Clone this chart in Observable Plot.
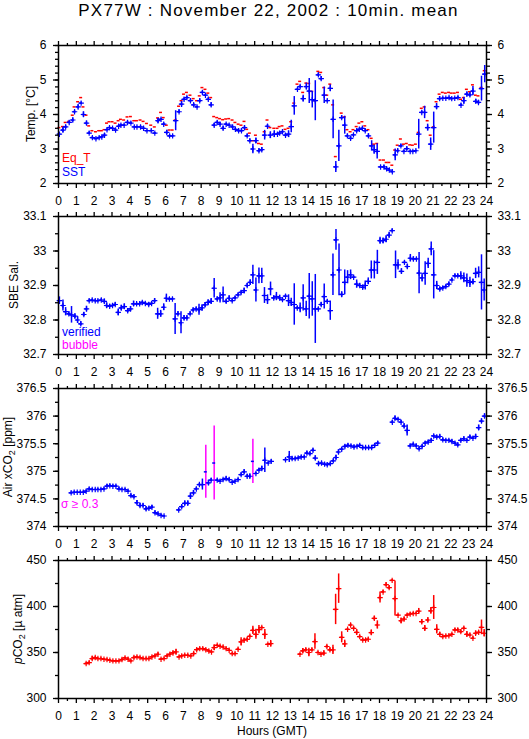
<!DOCTYPE html>
<html><head><meta charset="utf-8">
<script src="https://cdn.jsdelivr.net/npm/d3@7"></script>
<script src="https://cdn.jsdelivr.net/npm/@observablehq/plot@0.6"></script>
<style>
body{margin:0;background:#fff;}
#chart{position:relative;width:529px;height:739px;font-family:"Liberation Sans",Arial,Helvetica,sans-serif;overflow:hidden;}
#title{position:absolute;top:0;left:4px;width:529px;height:22px;line-height:22px;text-align:center;font-size:17px;letter-spacing:1.2px;color:#000;}
.panel{position:absolute;left:0;}
</style>
</head><body>
<div id="chart"><div id="title">PX77W : November 22, 2002 : 10min. mean</div></div>
<script>
// ---------- data ----------
const hourTicks = [0,1,2,3,4,5,6,7,8,9,10,11,12,13,14,15,16,17,18,19,20,21,22,23,24];
const tempTicks = [2,3,4,5,6];
const salTicks = [32.7,32.8,32.9,33,33.1];
const airTicks = [374,374.5,375,375.5,376,376.5];
const pco2Ticks = [300,350,400,450];

const tempHours = [0.05,0.25,0.4,0.6,0.8,0.9,1.1,1.27,1.4,1.57,1.72,1.9,2.1,2.28,2.43,2.58,2.72,2.86,3.03,3.2,3.37,3.5,3.68,3.87,4.06,4.25,4.4,4.6,4.77,4.96,5.2,5.4,5.58,5.75,5.9,6.07,6.23,6.4,6.57,6.76,6.9,7.04,7.2,7.4,7.58,7.77,7.92,8.07,8.24,8.4,8.56,8.73,8.9,9.06,9.23,9.4,9.57,9.76,9.92,10.1,10.26,10.43,10.58,10.73,10.9,11.07,11.24,11.4,11.56,11.72,11.88,12.1,12.28,12.4,12.56,12.73,12.9,13.05,13.22,13.4,13.55,13.72,13.9,14.06,14.23,14.4,14.57,14.73,14.9,15.07,15.24,15.4,15.55,15.72,15.88,16.05,16.2,16.38,16.54,16.72,16.87,17.04,17.2,17.38,17.56,17.7,17.87,18.06,18.25,18.4,18.55,18.72,18.88,19.02,19.2,19.37,19.53,19.72,19.87,20.04,20.2,20.37,20.53,20.7,20.87,21.04,21.2,21.37,21.55,21.72,21.9,22.05,22.22,22.4,22.57,22.73,22.9,23.07,23.24,23.4,23.55,23.72,23.9];
const eqT = [3.62,3.65,3.77,3.8,3.98,4.22,4.37,4.49,4.22,3.98,3.67,3.53,3.5,3.53,3.53,3.56,3.75,3.79,3.79,3.75,3.82,3.86,3.84,3.93,3.94,3.82,3.82,3.84,3.8,3.74,3.69,3.64,3.9,4.06,3.91,3.69,3.55,3.55,3.84,4.24,4.4,4.59,4.64,4.56,4.46,4.4,4.54,4.78,4.73,4.62,4.49,3.94,3.91,3.88,3.85,3.87,3.88,3.84,3.77,3.72,3.69,3.8,3.57,3.46,3.24,3.4,3.16,3.14,3.5,3.84,3.62,3.6,3.6,3.65,3.67,3.57,3.6,3.79,4.33,4.88,4.96,4.64,4.91,4.9,4.67,4.4,5.25,5.22,4.78,4.56,4.88,4.28,2.78,null,4.04,3.93,3.56,3.5,3.56,3.65,3.75,3.79,3.67,3.56,3.31,3.14,3.16,2.68,2.68,2.61,2.61,2.53,2.97,3.11,3.29,3.14,3.16,3.12,3.11,3.14,3.48,4.18,4.22,3.82,3.4,3.64,4.37,4.59,4.64,4.62,4.64,4.62,4.62,4.64,4.44,4.49,4.73,4.66,4.86,4.56,4.54,4.78,5.27];
const sst = [3.43,3.55,3.64,3.77,3.84,4.08,4.22,4.33,4.0,3.75,3.46,3.33,3.3,3.33,3.35,3.4,3.56,3.62,3.6,3.55,3.66,3.69,3.69,3.77,3.75,3.64,3.64,3.64,3.6,3.53,3.53,3.46,3.82,3.86,3.72,3.48,3.38,3.38,3.82,4.08,4.3,4.44,4.49,4.4,4.28,4.22,4.4,4.64,4.56,4.44,4.28,3.69,3.77,3.72,3.6,3.72,3.69,3.64,3.57,3.53,3.53,3.62,3.38,3.24,3.0,3.24,2.95,2.98,3.4,3.66,3.4,3.43,3.43,3.46,3.5,3.4,3.43,3.65,4.25,4.73,4.81,4.46,4.81,4.68,4.43,4.4,5.15,5.04,4.56,4.4,4.76,3.86,2.48,3.09,3.91,3.69,3.38,3.31,3.41,3.53,3.57,3.6,3.53,3.38,3.09,2.98,2.93,2.48,2.48,2.43,2.39,2.34,2.83,2.95,3.09,2.93,3.01,2.93,2.93,2.95,3.43,4.06,4.06,3.62,3.14,3.62,4.23,4.46,4.47,4.47,4.49,4.46,4.47,4.49,4.27,4.4,4.59,4.57,4.68,4.38,4.35,4.75,5.17];
const sstSd = [0.04,0.08,0.05,0.04,0.06,0.04,0.06,0.03,0.08,0.06,0.04,0.03,0.02,0.02,0.02,0.05,0.03,0.02,0.02,0.03,0.03,0.03,0.03,0.04,0.03,0.02,0.02,0.03,0.03,0.02,0.02,0.02,0.07,0.03,0.04,0.06,0.03,0.02,0.29,0.05,0.08,0.04,0.03,0.04,0.04,0.02,0.05,0.04,0.03,0.04,0.06,0.05,0.04,0.05,0.06,0.03,0.03,0.03,0.03,0.04,0.05,0.05,0.05,0.04,0.14,0.08,0.06,0.06,0.14,0.05,0.1,0.1,0.04,0.05,0.04,0.05,0.1,0.18,0.27,0.03,0.04,0.1,0.1,0.36,0.24,0.58,0.04,0.06,0.24,0.02,0.1,0.56,0.16,0.45,0.05,0.26,0.05,0.05,0.02,0.04,0.03,0.03,0.04,0.06,0.15,0.13,0.22,0.02,0.04,0.03,0.03,0.03,0.17,0.05,0.04,0.03,0.05,0.02,0.02,0.02,0.43,0.04,0.18,0.1,0.18,0.45,0.09,0.06,0.03,0.02,0.02,0.02,0.02,0.03,0.04,0.1,0.06,0.06,0.13,0.06,0.06,0.36,0.25];

const salHours = [0.05,0.25,0.4,0.58,0.73,0.92,1.07,1.25,1.42,1.57,1.72,1.89,2.06,2.21,2.4,2.57,2.7,2.87,3.03,3.18,3.35,3.52,3.69,3.88,4.04,4.21,4.38,4.55,4.7,4.87,5.06,5.22,5.39,5.56,5.73,5.9,6.05,6.22,6.39,6.54,6.7,6.87,7.04,7.2,7.38,7.55,7.72,7.88,8.05,8.22,8.39,8.56,8.73,8.9,9.06,9.23,9.4,9.57,9.74,9.9,10.07,10.24,10.41,10.58,10.75,10.9,11.07,11.24,11.4,11.55,11.72,11.89,12.07,12.22,12.4,12.56,12.73,12.9,13.05,13.22,13.39,13.55,13.72,13.89,14.06,14.23,14.4,14.57,14.73,14.9,15.07,15.24,15.39,15.56,15.73,15.88,16.05,16.21,16.38,16.55,16.72,16.89,17.06,17.2,17.37,17.54,17.71,17.88,18.03,18.2,18.37,18.54,18.71,18.9,19.04,19.23,19.4,19.56,19.73,19.9,20.07,20.22,20.39,20.56,20.73,20.9,21.04,21.21,21.38,21.55,21.72,21.89,22.06,22.23,22.39,22.56,22.73,22.9,23.07,23.24,23.39,23.56,23.72,23.87];
const sal = [32.856,32.842,32.824,32.818,32.815,32.811,32.8,32.789,32.816,32.832,32.856,32.858,32.856,32.856,32.858,32.854,32.842,32.84,32.842,32.845,32.822,32.835,32.839,32.827,32.832,32.847,32.847,32.847,32.851,32.848,32.845,32.848,32.856,32.818,32.818,32.837,32.863,32.861,32.861,32.803,32.818,32.792,32.806,32.806,32.818,32.829,32.832,32.83,32.835,32.844,32.851,32.854,32.892,32.861,32.864,32.873,32.854,32.863,32.856,32.864,32.873,32.88,32.885,32.9,32.909,32.931,32.887,32.928,32.928,32.871,32.859,32.89,32.864,32.868,32.864,32.859,32.869,32.856,32.851,32.845,32.835,32.835,32.864,32.832,32.869,32.861,32.832,32.832,32.845,32.868,32.854,32.827,32.931,33.032,32.945,32.874,32.909,32.924,32.931,32.924,32.904,32.9,32.895,32.9,32.912,32.945,32.945,32.967,33.03,33.03,33.034,33.046,33.059,32.96,32.96,32.941,32.967,32.955,32.979,32.977,32.977,32.936,32.922,32.935,32.964,33.006,32.931,32.9,32.89,32.893,32.897,32.904,32.916,32.928,32.928,32.928,32.922,32.914,32.909,32.911,32.935,32.938,32.909,32.887];
const salSd = [0.011,0.016,0.012,0.005,0.024,0.007,0.01,0.006,0.006,0.008,0.004,0.003,0.003,0.003,0.004,0.007,0.008,0.005,0.004,0.005,0.01,0.008,0.008,0.006,0.007,0.008,0.003,0.003,0.003,0.003,0.005,0.004,0.006,0.016,0.01,0.01,0.012,0.004,0.003,0.045,0.006,0.032,0.007,0.006,0.005,0.006,0.005,0.016,0.009,0.007,0.008,0.008,0.028,0.006,0.015,0.023,0.006,0.007,0.004,0.004,0.004,0.005,0.008,0.006,0.008,0.028,0.035,0.023,0.022,0.023,0.014,0.02,0.006,0.012,0.008,0.004,0.004,0.017,0.012,0.06,0.005,0.014,0.038,0.022,0.066,0.05,0.1,0.004,0.006,0.036,0.004,0.028,0.06,0.03,0.075,0.008,0.036,0.019,0.014,0.003,0.012,0.005,0.006,0.013,0.01,0.026,0.026,0.035,0.01,0.008,0.01,0.008,0.004,0.04,0.015,0.008,0.004,0.007,0.011,0.006,0.003,0.06,0.012,0.034,0.015,0.02,0.07,0.012,0.006,0.004,0.004,0.006,0.004,0.004,0.004,0.012,0.014,0.019,0.015,0.008,0.015,0.016,0.08,0.032];

const airHours = [0.71,0.88,1.05,1.22,1.39,1.55,1.72,1.89,2.06,2.21,2.38,2.55,2.72,2.88,3.05,3.22,3.39,3.56,3.73,3.9,4.06,4.23,4.4,4.57,4.74,4.91,5.07,5.24,5.41,5.58,5.75,5.92,6.74,6.91,7.08,7.25,7.4,7.57,7.73,7.9,8.07,8.26,8.41,8.56,8.73,8.9,9.06,9.23,9.4,9.57,9.74,9.9,10.07,10.24,10.41,10.58,10.73,10.9,11.07,11.24,11.4,11.57,11.76,11.93,12.73,12.94,13.1,13.27,13.44,13.61,13.78,13.93,14.1,14.27,14.4,14.58,14.75,14.92,15.07,15.24,15.41,15.56,15.7,15.88,16.06,16.23,16.4,16.57,16.74,16.89,17.06,17.22,17.39,17.56,17.73,17.9,18.72,18.87,19.04,19.21,19.38,19.55,19.72,19.89,20.06,20.22,20.39,20.56,20.73,20.9,21.04,21.21,21.38,21.55,21.72,21.89,22.06,22.23,22.39,22.56,22.73,22.9,23.07,23.24,23.39,23.56,23.72,23.89];
const airCO2 = [374.61,374.62,374.62,374.62,374.62,374.64,374.68,374.67,374.67,374.67,374.67,374.68,374.73,374.74,374.73,374.73,374.68,374.67,374.67,374.64,374.56,374.54,374.43,374.38,374.38,374.32,374.33,374.35,374.25,374.23,374.2,374.19,374.3,374.36,374.42,374.42,374.55,374.61,374.68,374.76,374.76,374.99,374.79,374.84,375.15,374.84,374.82,374.85,374.87,374.85,374.8,374.82,374.85,374.94,374.99,374.91,374.91,375.18,374.96,375.02,375.05,375.2,375.15,375.18,375.21,375.26,375.23,375.23,375.24,375.26,375.26,375.33,375.32,375.38,375.24,375.14,375.15,375.13,375.12,375.14,375.19,375.25,375.35,375.4,375.45,375.47,375.46,375.44,375.45,375.47,375.43,375.43,375.43,375.43,375.47,375.51,375.89,375.96,375.94,375.89,375.82,375.74,375.46,375.49,375.46,375.41,375.45,375.51,375.53,375.56,375.64,375.62,375.63,375.57,375.56,375.56,375.54,375.51,375.48,375.56,375.59,375.56,375.62,375.6,375.63,375.79,375.91,376.0];
const airSd = [0.02,0.02,0.01,0.01,0.02,0.02,0.02,0.02,0.01,0.02,0.02,0.02,0.03,0.02,0.02,0.02,0.03,0.02,0.02,0.02,0.03,0.03,0.04,0.04,0.03,0.04,0.03,0.03,0.03,0.02,0.02,0.01,0.03,0.03,0.04,0.04,0.06,0.04,0.03,0.02,0.1,0.48,0.05,0.03,0.67,0.02,0.02,0.02,0.03,0.03,0.02,0.02,0.02,0.03,0.04,0.03,0.04,0.4,0.02,0.03,0.04,0.22,0.02,0.03,0.02,0.1,0.03,0.02,0.02,0.02,0.02,0.03,0.03,0.03,0.04,0.03,0.02,0.02,0.03,0.02,0.03,0.04,0.04,0.03,0.03,0.03,0.02,0.03,0.02,0.02,0.02,0.02,0.02,0.03,0.03,0.03,0.03,0.04,0.02,0.03,0.04,0.1,0.03,0.02,0.03,0.03,0.03,0.03,0.03,0.03,0.02,0.03,0.03,0.03,0.02,0.02,0.03,0.02,0.03,0.03,0.03,0.02,0.03,0.02,0.04,0.05,0.04,0.04];

const pco2Hours = [1.55,1.72,1.89,2.06,2.21,2.38,2.55,2.72,2.88,3.05,3.22,3.39,3.56,3.73,3.9,4.06,4.23,4.4,4.57,4.74,4.91,5.07,5.24,5.41,5.58,5.75,5.92,6.09,6.25,6.42,6.59,6.76,6.91,7.08,7.25,7.42,7.58,7.75,7.92,8.09,8.26,8.43,8.58,8.73,8.9,9.06,9.23,9.4,9.57,9.74,9.9,10.07,10.24,10.41,10.58,10.73,10.9,11.07,11.24,11.4,11.57,11.74,11.9,13.54,13.7,13.87,14.04,14.21,14.38,14.55,14.72,14.88,15.05,15.22,15.39,15.54,15.71,15.88,16.05,16.21,16.38,16.55,16.72,16.89,17.06,17.22,17.37,17.54,17.71,17.88,18.03,18.2,18.37,18.54,18.71,18.87,19.04,19.21,19.38,19.55,19.72,19.89,20.05,20.2,20.37,20.54,20.71,20.88,21.04,21.21,21.38,21.55,21.72,21.89,22.06,22.23,22.39,22.56,22.73,22.9,23.07,23.24,23.39,23.56,23.72,23.87];
const pco2 = [338,339,343.4,344.5,343.4,343.4,342.7,342.3,341.6,340.9,340.9,340.9,342.3,344.1,342.7,340.9,344.5,345.2,344.5,343.4,343.4,343.4,345.2,346.3,348.1,342.7,343.4,346.3,348.1,349.5,350.6,345.2,346.3,347,347,346.3,348.8,353.1,354.2,354.2,353.1,351.7,350.6,355.3,357.8,356.8,356,354.2,352.4,348.8,348.8,353.5,361.5,363.3,364.3,367.6,374.1,369.8,374.8,377.1,369.6,358.9,359.6,348.2,351.8,352.9,350,352.9,361.9,350,348.2,349.3,356.5,352.9,352.9,396.8,419.4,366.5,359.4,375.2,379.9,376.3,371.9,367.3,363.7,363.7,364.4,371.6,387.1,379.9,409.7,415.8,423.7,420.5,428.4,408.6,390.6,384.5,386.3,390.6,391.7,392.4,392.4,394.9,383.5,376.3,385.3,395.3,398.9,375.2,369.8,367.3,368,368.3,369.8,374.5,374.5,372.7,376.3,369.8,369,365.5,370.9,371.9,377.3,370.9];
const pco2Sd = [1,1.5,2.5,1,1,0.8,0.8,0.8,0.8,0.8,0.8,0.8,1.5,1,1.5,1,1.5,1,0.8,0.8,0.8,1,1,1.5,1.5,1,1,1.5,1.5,2,3,1,1,1,1,1,1.5,1.5,1,1,1,1,1,3,1,1,1,1,1,1,1,1.5,4.5,2,1.5,1.5,4.5,5.5,4.5,1,5.5,1,3.5,0.8,2.5,1.5,4.5,1.5,8.5,0.8,0.8,2.5,1.5,2,5,16.5,16,6,4,1,1.5,1.5,3,1,1.5,1.5,1.5,3,2.5,4.5,6,1.5,2,2,1,19,1,3,2,1.5,1.5,1,1,3,2.5,3,2.5,3.5,13,5,2,1,1,1,1,1.5,1.5,2,1.5,3,1.5,1.5,2.5,1.5,8,4];

// ---------- helpers ----------
const BLUE = "#0000ff", RED = "#ff0000", MAGENTA = "#ff00ff";
const FONT = "'Liberation Sans', Arial, Helvetica, sans-serif";
const HALF = 1 / 12; // half of a 10-minute interval, in hours
const halfHourTicks = d3.range(0.5, 24, 1);

function rows(hours, values, sds) {
  return hours.map((t, i) => ({t, v: values[i], e: sds ? sds[i] : 0})).filter(d => d.v != null);
}
function hbar(data, color) {
  return Plot.ruleY(data, {y: "v", x1: d => d.t - HALF, x2: d => d.t + HALF, stroke: color, strokeWidth: 1.5});
}
function vbar(data, color) {
  return Plot.ruleX(data, {x: "t", y1: d => d.v - d.e, y2: d => d.v + d.e, stroke: color, strokeWidth: 1.5});
}
function plus(data, color) {
  return Plot.dot(data, {x: "t", y: "v", symbol: "plus", r: 1.9, stroke: color, strokeWidth: 1.2});
}

const chart = document.getElementById("chart");
const PLOT_H = 138;

function panel({frameTop, yDomain, yMajor, yMinor, dataMarks, height = 178}) {
  const mt = 10;
  const svg = Plot.plot({
    width: 529, height, marginTop: mt, marginBottom: height - mt - PLOT_H, marginLeft: 58, marginRight: 43,
    x: {domain: [0, 24]},
    y: {domain: yDomain},
    style: {fontFamily: FONT, fontSize: "12px", color: "#000", background: "transparent", overflow: "visible"},
    marks: [
      ...dataMarks,
      Plot.frame({stroke: "#000", strokeWidth: 1.5}),
      Plot.axisX({anchor: "bottom", ticks: hourTicks, tickSize: 5, tickPadding: 8, label: null, tickFormat: d => `${d}`, strokeWidth: 1.3}),
      Plot.axisX({anchor: "bottom", ticks: halfHourTicks, tickSize: 3, text: null, label: null, strokeWidth: 1.3}),
      Plot.axisX({anchor: "top", ticks: hourTicks, tickSize: 5, text: null, label: null, strokeWidth: 1.3}),
      Plot.axisX({anchor: "top", ticks: halfHourTicks, tickSize: 3, text: null, label: null, strokeWidth: 1.3}),
      Plot.axisY({anchor: "left", ticks: yMajor, tickSize: 5, tickPadding: 7, label: null, tickFormat: d => `${d}`, strokeWidth: 1.3}),
      Plot.axisY({anchor: "left", ticks: yMinor, tickSize: 3, text: null, label: null, strokeWidth: 1.3}),
      Plot.axisY({anchor: "right", ticks: yMajor, tickSize: 5, tickPadding: 6, label: null, tickFormat: d => `${d}`, strokeWidth: 1.3}),
      Plot.axisY({anchor: "right", ticks: yMinor, tickSize: 3, text: null, label: null, strokeWidth: 1.3})
    ]
  });
  svg.classList.add("panel");
  svg.style.top = (frameTop - mt) + "px";
  chart.appendChild(svg);
  return d3.select(svg);
}
function ylabel(sel, x, parts) {
  const t = sel.append("text")
    .attr("transform", `translate(${x},${10 + PLOT_H / 2}) rotate(-90)`)
    .attr("text-anchor", "middle").attr("font-family", FONT).attr("font-size", 12).attr("fill", "#000");
  for (const p of parts) {
    const s = t.append("tspan").text(p.text);
    if (p.sub) s.attr("font-size", 9).attr("dy", 3);
    if (p.after) s.attr("dy", -3);
    if (p.italic) s.attr("font-style", "italic");
  }
}
function legend(sel, x, y, text, color) {
  sel.append("text").attr("x", x).attr("y", y).attr("text-anchor", "start")
    .attr("font-family", FONT).attr("font-size", 12).attr("fill", color).text(text);
}

// ---------- panel 1: temperature ----------
const eqRows = rows(tempHours, eqT);
const sstRows = rows(tempHours, sst, sstSd);
const p1 = panel({
  frameTop: 45, yDomain: [2, 6], yMajor: tempTicks, yMinor: d3.range(2, 6.01, 0.2),
  dataMarks: [hbar(eqRows, RED), vbar(sstRows, BLUE), hbar(sstRows, BLUE), plus(sstRows, BLUE)]
});
ylabel(p1, 35, [{text: "Temp. [°C]"}]);
legend(p1, 62, 127, "Eq_T", RED);
legend(p1, 62, 141, "SST", BLUE);

// ---------- panel 2: salinity ----------
const salRows = rows(salHours, sal, salSd);
const p2 = panel({
  frameTop: 216, yDomain: [32.7, 33.1], yMajor: salTicks, yMinor: d3.range(32.7, 33.101, 0.05),
  dataMarks: [vbar(salRows, BLUE), hbar(salRows, BLUE), plus(salRows, BLUE)]
});
ylabel(p2, 18, [{text: "SBE Sal."}]);
legend(p2, 62, 130, "verified", BLUE);
legend(p2, 62, 143, "bubble", MAGENTA);

// ---------- panel 3: air xCO2 ----------
const airRows = rows(airHours, airCO2, airSd);
const p3 = panel({
  frameTop: 388, yDomain: [374, 376.5], yMajor: airTicks, yMinor: d3.range(374, 376.51, 0.25),
  dataMarks: [
    vbar(airRows.filter(d => d.e < 0.3), BLUE),
    vbar(airRows.filter(d => d.e >= 0.3), MAGENTA),
    hbar(airRows, BLUE),
    plus(airRows.filter(d => d.e < 0.3), BLUE)
  ]
});
ylabel(p3, 12, [{text: "Air xCO"}, {text: "2", sub: true}, {text: " [ppm]", after: true}]);
legend(p3, 61, 130, "σ ≥ 0.3", MAGENTA);

// ---------- panel 4: pCO2 ----------
const pRows = rows(pco2Hours, pco2, pco2Sd);
const p4 = panel({
  frameTop: 560, yDomain: [300, 450], yMajor: pco2Ticks, yMinor: d3.range(300, 450.1, 25), height: 189,
  dataMarks: [vbar(pRows, RED), hbar(pRows, RED), plus(pRows, RED)]
});
ylabel(p4, 22, [{text: "p", italic: true}, {text: "CO"}, {text: "2", sub: true}, {text: " [µ atm]", after: true}]);
p4.append("text").attr("x", 272).attr("y", 185).attr("text-anchor", "middle")
  .attr("font-family", FONT).attr("font-size", 12).attr("fill", "#000").text("Hours (GMT)");
</script>
</body></html>
